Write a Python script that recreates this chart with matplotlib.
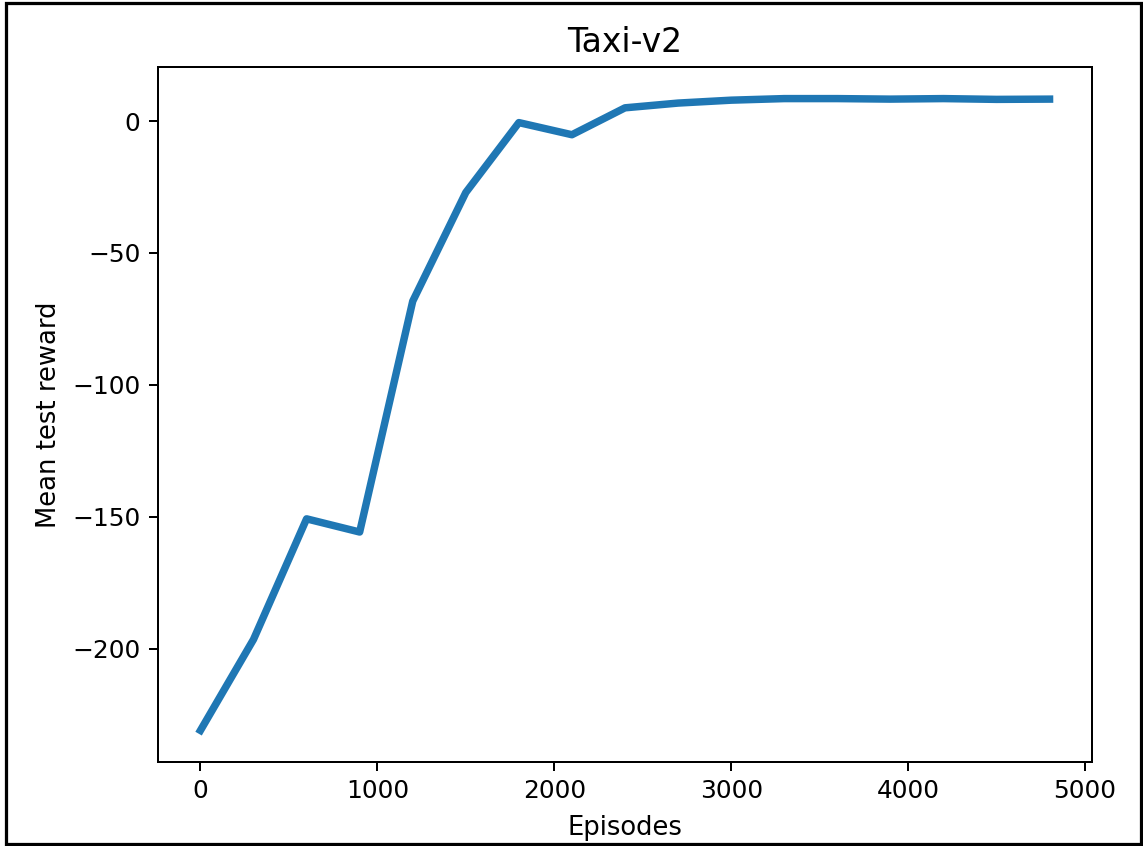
import numpy as np
import matplotlib
matplotlib.use('Agg')
import matplotlib.pyplot as plt
from matplotlib.patches import Rectangle

# episodes evaluated every 300 steps
episodes = [0, 300, 600, 900, 1200, 1500, 1800, 2100, 2400,
            2700, 3000, 3300, 3600, 3900, 4200, 4500, 4800]
mean_reward = [-231, -196.5, -150.8, -155.8, -68.3, -27.1, -0.6, -5.2, 5.0,
               6.8, 7.9, 8.5, 8.5, 8.3, 8.5, 8.2, 8.3]

W, H = 1143, 846
dpi = 179
fig = plt.figure(figsize=(W / dpi, H / dpi), dpi=dpi)
ax = fig.add_axes([158 / W, 1 - 762 / H, (1092 - 158) / W, (762 - 67) / H])

ax.plot(episodes, mean_reward, linewidth=3)
ax.set_title('Taxi-v2', fontsize=13.3)
ax.set_xlabel('Episodes', fontsize=10.4, labelpad=4.6)
ax.set_ylabel('Mean test reward', fontsize=10.4)

# black frame round the whole picture
fig.patches.append(Rectangle((6 / W, 2.5 / H), (1141 - 6) / W, (843 - 2.5) / H,
                             transform=fig.transFigure,
                             fill=False, edgecolor='black', linewidth=1.3))

fig.savefig('out.png', dpi=dpi)
